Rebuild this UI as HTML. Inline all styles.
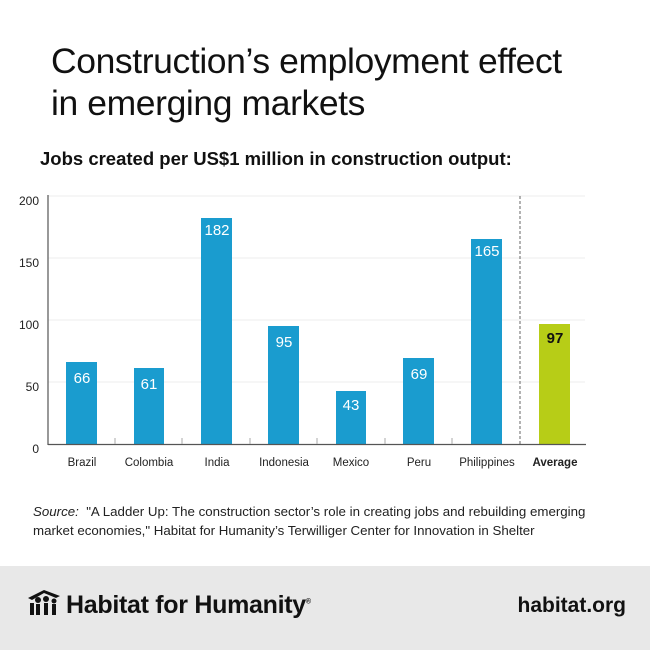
<!DOCTYPE html>
<html><head><style>
body{margin:0;width:650px;height:650px;background:#fff;font-family:"Liberation Sans",sans-serif;position:relative;overflow:hidden}
.t{position:absolute;left:51px;top:40px;font-size:35.5px;line-height:42px;color:#111;letter-spacing:-0.4px}
.s{position:absolute;left:40px;top:148px;font-size:18.5px;font-weight:bold;color:#111}
.src{position:absolute;left:33px;top:502px;font-size:13.3px;line-height:19px;color:#222}
.foot{position:absolute;left:0;top:566px;width:650px;height:84px;background:#e8e8e8}
</style></head><body>
<div class="t">Construction’s employment effect<br>in emerging markets</div>
<div class="s">Jobs created per US$1 million in construction output:</div>
<svg width="650" height="650" style="position:absolute;left:0;top:0" font-family="Liberation Sans, sans-serif">
<g stroke="#eee" stroke-width="1">
<line x1="48" x2="585" y1="196" y2="196"/><line x1="48" x2="585" y1="258" y2="258"/><line x1="48" x2="585" y1="320" y2="320"/><line x1="48" x2="585" y1="382" y2="382"/>
</g>
<g font-size="12" fill="#222" text-anchor="end">
<text x="39" y="205">200</text><text x="39" y="267">150</text><text x="39" y="329">100</text><text x="39" y="391">50</text><text x="39" y="453">0</text>
</g>
<g fill="#1a9ccf">
<rect x="66" y="362" width="31" height="82"/>
<rect x="134" y="368" width="30" height="76"/>
<rect x="201" y="218" width="31" height="226"/>
<rect x="268" y="326" width="31" height="118"/>
<rect x="336" y="391" width="30" height="53"/>
<rect x="403" y="358" width="31" height="86"/>
<rect x="471" y="239" width="31" height="205"/>
</g>
<rect x="539" y="324" width="31" height="120" fill="#b7cd17"/>
<g font-size="15" fill="#fff" text-anchor="middle">
<text x="82" y="383">66</text><text x="149" y="389">61</text><text x="217" y="235">182</text><text x="284" y="347">95</text><text x="351" y="410">43</text><text x="419" y="379">69</text><text x="487" y="256">165</text>
</g>
<text x="555" y="343" font-size="15" font-weight="bold" fill="#111" text-anchor="middle">97</text>
<line x1="520" x2="520" y1="196" y2="444" stroke="#666" stroke-dasharray="3,2"/>
<line x1="48" x2="48" y1="195" y2="445" stroke="#555" stroke-width="1.2"/>
<line x1="48" x2="586" y1="444.5" y2="444.5" stroke="#555" stroke-width="1.2"/>
<g stroke="#aaa"><line x1="115" x2="115" y1="438" y2="444"/><line x1="182" x2="182" y1="438" y2="444"/><line x1="250" x2="250" y1="438" y2="444"/><line x1="317" x2="317" y1="438" y2="444"/><line x1="385" x2="385" y1="438" y2="444"/><line x1="452" x2="452" y1="438" y2="444"/></g>
<g font-size="11.5" fill="#222" text-anchor="middle">
<text x="82" y="466">Brazil</text><text x="149" y="466">Colombia</text><text x="217" y="466">India</text><text x="284" y="466">Indonesia</text><text x="351" y="466">Mexico</text><text x="419" y="466">Peru</text><text x="487" y="466">Philippines</text><text x="555" y="466" font-weight="bold">Average</text>
</g>
</svg>
<div class="src"><i>Source:</i>&nbsp; "A Ladder Up: The construction sector’s role in creating jobs and rebuilding emerging<br>market economies," Habitat for Humanity’s Terwilliger Center for Innovation in Shelter</div>
<div class="foot">
<svg width="40" height="30" style="position:absolute;left:26px;top:22px"><path d="M2 10 L18 2 L34 8 L30 10 L18 5 L6 12Z" fill="#111"/><circle cx="12" cy="12" r="3" fill="#111"/><circle cx="20" cy="11" r="3" fill="#111"/><circle cx="28" cy="13" r="2.5" fill="#111"/><rect x="4" y="15" width="4" height="12" fill="#111"/><rect x="10" y="16" width="4" height="11" fill="#111"/><rect x="18" y="15" width="4" height="12" fill="#111"/><rect x="26" y="16" width="4" height="11" fill="#111"/></svg>
<div style="position:absolute;left:66px;top:25px;font-size:25px;font-weight:bold;color:#111;letter-spacing:-0.3px">Habitat for Humanity<sup style="font-size:7px">®</sup></div>
<div style="position:absolute;right:24px;top:28px;font-size:21px;font-weight:bold;color:#111">habitat.org</div>
</div>
</body></html>
